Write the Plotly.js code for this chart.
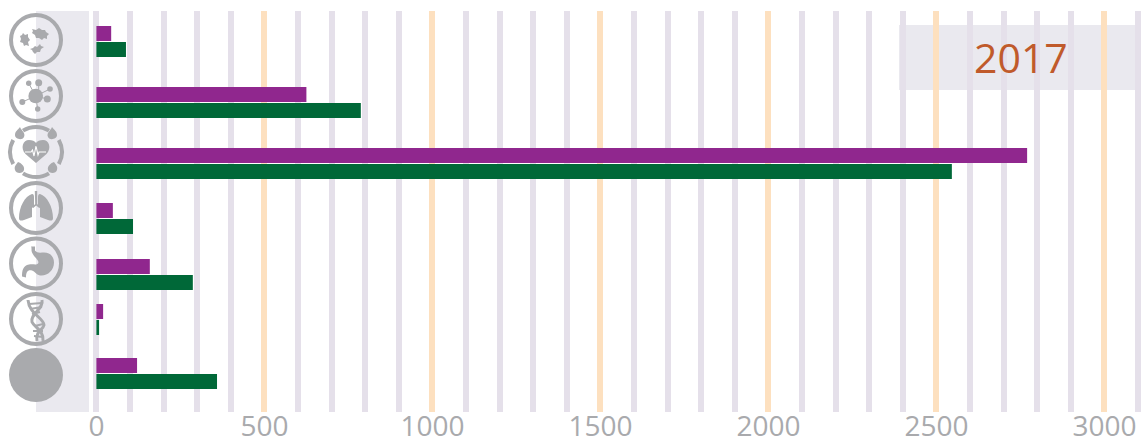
<!DOCTYPE html>
<html><head><meta charset="utf-8">
<script src="https://cdn.plot.ly/plotly-3.0.1.min.js"></script>
<style>html,body{margin:0;padding:0;background:#fff}#c{width:1142px;height:440px}</style>
</head><body><div id="c"></div>
<script>
var categories = ["Infectious","Neoplasms","Circulatory","Respiratory","Digestive","Congenital","Other"];
var series2Values = [44, 625, 2770, 49, 159, 20, 121];
var series1Values = [88, 787, 2546, 109, 287, 8, 359];
var rowCentres = [41.5, 102.5, 163.5, 218.5, 274.5, 319.5, 373.5];
var xTickVals = [0, 500, 1000, 1500, 2000, 2500, 3000];
var xTickText = ["0","500","1000","1500","2000","2500","3000"];
var yearLabel = "2017";
var iconCentres = [40, 96, 152, 208, 263.5, 319, 375];

var G = "#a9aaad";
var ring = '<circle cx="30" cy="30" r="25" fill="none" stroke="'+G+'" stroke-width="4"/>';
var iconBodies = [
 ring+'<g fill="'+G+'"><path d="M17 23l2 2 3-1 0 3 2 3-2 2 1 4-3-1-2 1-1-3-3-1 1-3-1-3 2-1z"/><path d="M26 19l4 1 3-2 3 2 3 0 1 2 3 2-2 2 0 3-3-1-2 2-3-2-3 0-1-3-3-2 1-2z"/><path d="M24 39l3-1 2-2 2 1 3-3 1 2 3 1-3 2-1 3-3 0-2 2-2-2-1-2z"/></g>',
 ring+'<g fill="'+G+'" stroke="'+G+'"><circle cx="29.7" cy="30" r="7.3" stroke="none"/><circle cx="22.7" cy="17.3" r="2.7" stroke="none"/><circle cx="32.7" cy="16.7" r="3.5" stroke="none"/><circle cx="44" cy="23" r="2.8" stroke="none"/><circle cx="41.3" cy="33" r="3.5" stroke="none"/><circle cx="31.7" cy="43" r="2.7" stroke="none"/><circle cx="16.3" cy="36" r="3" stroke="none"/><path fill="none" stroke-width="1" d="M22.7 17.3L29.7 30M32.7 16.7V30M44 23L29.7 30M41.3 33L29.7 30M31.7 43L29.7 30M16.3 36L29.7 30"/></g>',
 '<g fill="none" stroke="'+G+'" stroke-width="4"><path d="M17 8.600A25 25 0 0 1 43 8.600"/><path d="M52.800 18A25 25 0 0 1 52.800 42"/><path d="M43 51.400A25 25 0 0 1 17 51.400"/><path d="M7.200 42A25 25 0 0 1 7.200 18"/></g><g fill="'+G+'"><path d="M14 5c1 3 6 6 4 10s-9 2-9-2 3-5 5-8z"/><path d="M46 5c-1 3-6 6-4 10s9 2 9-2-3-5-5-8z"/><path d="M12 40c3 1 7 4 6 8s-8 4-9 0 1-5 3-8z"/><path d="M48 40c-3 1-7 4-6 8s8 4 9 0-1-5-3-8z"/><path d="M30 41L19.500 32C14 26 17 18 23 18c3 0 6 1 7 3 1-2 4-3 7-3 6 0 9 8 3.500 14z"/></g><path d="M19 30h6l1.500-2 1.500 6 2-10 2 9 1-3h7" fill="none" stroke="#fff" stroke-width="1.100"/>',
 ring+'<g fill="'+G+'"><path d="M28.800 13h2.400v13l3 3-1 1-3-2.500-3 2.500-1-1 3-3z"/><path d="M26 16c-7 2-13 13-13 24 0 3 2 3 5 2l8-3V30l2-2V20c0-2 0-4-2-4z"/><path d="M34 16c7 2 13 13 13 24 0 3-2 3-5 2l-8-3V30l-2-2V20c0-2 0-4 2-4z"/></g>',
 ring+'<path fill="'+G+'" d="M25 13l4 0 0 4c2 3 6 2 9 2 7 0 10 5 10 10 0 8-7 14-14 13-4-1-5-4-8-5-4-1-6 1-6 7l-4-1c0-6 1-11 7-12 4-1 7 1 9-1 2-3-4-6-6-11-1-2 0-5-1-6z"/>',
 ring+'<g fill="none" stroke="'+G+'" stroke-width="3"><path d="M22 11c1 14 16 18 16 25-1 5-9 7-7 16"/><path d="M36 11c2 9-12 14-10 22 2 5 12 8 11 19"/></g><g stroke="'+G+'" stroke-width="2.200"><path d="M23 15l13-1M24 20l12-2M26 25l8-2M29 37l8-2M27 42l10 0M28 47l9 1"/></g>',
 '<circle cx="30" cy="30" r="27" fill="'+G+'"/>'
];
var images = iconBodies.map(function(b,i){
  var svg='<svg xmlns="http://www.w3.org/2000/svg" width="60" height="60" viewBox="0 0 60 60">'+b+'</svg>';
  return {source:'data:image/svg+xml;utf8,'+encodeURIComponent(svg),xref:'paper',yref:'y',
    x:(6-90)/1052,y:iconCentres[i]-30,sizex:60/1052,sizey:60,sizing:'stretch',xanchor:'left',yanchor:'top',layer:'above'};
});
var common = {type:'bar',orientation:'h',y:rowCentres,width:15,hoverinfo:'x'};
var traces = [
 Object.assign({},common,{x:series2Values,offset:-15.5,marker:{color:'#90278e'},name:'a'}),
 Object.assign({},common,{x:series1Values,offset:0.5,marker:{color:'#006838'},name:'b'})
];
var layout = {
 width:1142,height:440,margin:{l:90,r:0,t:11,b:28},showlegend:false,
 paper_bgcolor:'#fff',plot_bgcolor:'#fff',barmode:'overlay',
 xaxis:{range:[-19.05,3111.9],tickmode:'array',tickvals:xTickVals,ticktext:xTickText,
   tickfont:{family:'Open Sans',size:28,color:G},ticks:'',ticklen:0,showline:false,ticklabelstandoff:-5,
   showgrid:true,gridcolor:'#fde0bf',gridwidth:6,
   zeroline:true,zerolinecolor:'#e5e0ea',zerolinewidth:6,
   minor:{dtick:100,tick0:0,tickmode:'linear',showgrid:true,gridcolor:'#e5e0ea',gridwidth:6,ticks:''}},
 yaxis:{range:[412,11],showticklabels:false,showgrid:false,zeroline:false,showline:false,ticks:''},
 shapes:[
  {type:'rect',layer:'below',xref:'paper',yref:'paper',x0:-54/1052,x1:-1/1052,y0:0,y1:1,fillcolor:'#eae9ef',line:{width:0}},
  {type:'rect',layer:'between',xref:'paper',yref:'y',x0:(899-90)/1052,x1:(1136-90)/1052,y0:25,y1:90,fillcolor:'rgba(225,224,232,0.7)',line:{width:0}}
 ],
 images:images,
 annotations:[{xref:'paper',yref:'y',x:(1021-90)/1052,y:57,text:yearLabel,showarrow:false,
   font:{family:'Open Sans',size:41,color:'#c05a2b'},xanchor:'center',yanchor:'middle'}]
};
Plotly.newPlot('c',traces,layout,{displayModeBar:false,staticPlot:true});
</script></body></html>
